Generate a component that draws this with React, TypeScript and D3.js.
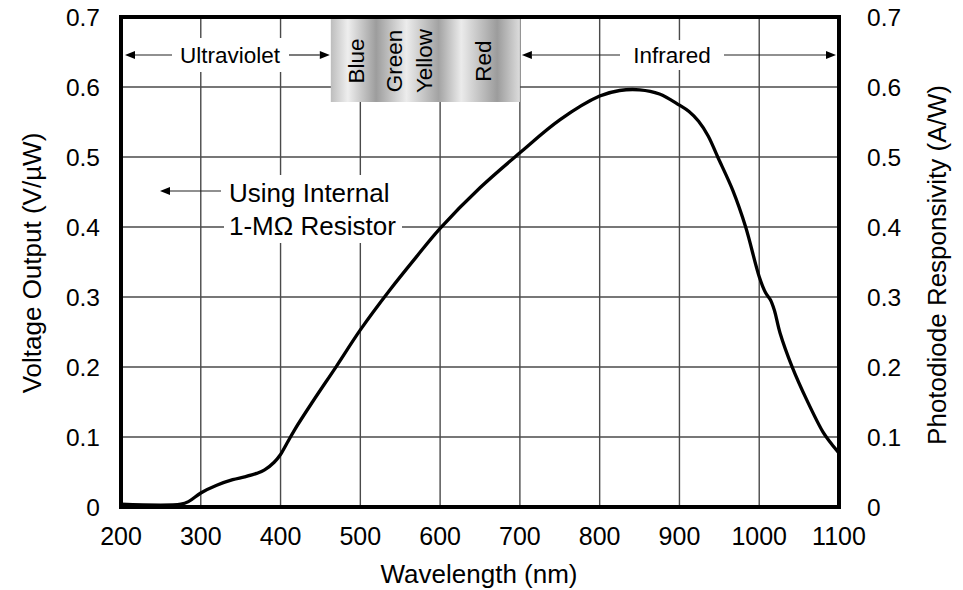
import React from 'react';
import * as d3 from 'd3';

// wavelength (nm) vs voltage output (V/uW)
const wavelengths = [200, 275, 285, 300, 320, 340, 355, 370, 380, 392, 400, 408, 418, 440, 470, 500, 537, 570, 600, 650, 700, 750, 800, 825, 850, 875, 900, 912, 924, 936, 948, 967, 983, 1000, 1008, 1014, 1019, 1026, 1041, 1060, 1080, 1090, 1100];
const voltage = [0.004, 0.004, 0.008, 0.02, 0.031, 0.039, 0.043, 0.048, 0.053, 0.064, 0.075, 0.091, 0.111, 0.15, 0.201, 0.253, 0.31, 0.357, 0.398, 0.456, 0.506, 0.553, 0.587, 0.595, 0.596, 0.59, 0.574, 0.565, 0.551, 0.53, 0.5, 0.452, 0.4, 0.329, 0.306, 0.296, 0.281, 0.249, 0.201, 0.152, 0.107, 0.091, 0.077];

const xTicks = [200, 300, 400, 500, 600, 700, 800, 900, 1000, 1100];
const yTicks = [0, 0.1, 0.2, 0.3, 0.4, 0.5, 0.6, 0.7];

const bandRange = [463, 700];
const bandLabels = [
  { text: 'Blue', nm: 495 },
  { text: 'Green', nm: 543 },
  { text: 'Yellow', nm: 580 },
  { text: 'Red', nm: 654 },
];

const W = 963;
const H = 590;
const FONT = '"Liberation Sans", Arial, Helvetica, sans-serif';

const Arrow = ({ x1, x2, y }: { x1: number; x2: number; y: number }) => {
  // x2 is where the arrow head points
  const dir = x2 > x1 ? 1 : -1;
  const hl = 10;
  return (
    <g>
      <line x1={x1} y1={y} x2={x2 - dir * hl} y2={y} stroke="#222" strokeWidth={1.2} />
      <path d={`M${x2},${y} L${x2 - dir * hl},${y - 4} L${x2 - dir * hl},${y + 4} Z`} fill="#000" />
    </g>
  );
};

const App = () => {
  const x = d3.scaleLinear().domain([200, 1100]).range([121, 839]);
  const y = d3.scaleLinear().domain([0, 0.7]).range([507, 17]);

  const line = d3.line<number>()
    .x((d, i) => x(wavelengths[i]))
    .y(d => y(d))
    .curve(d3.curveCatmullRom.alpha(0.5));

  const top = y(0.7);
  const bottom = y(0);
  const bx0 = x(bandRange[0]);
  const bx1 = x(bandRange[1]);
  const arrowY = 55;

  return (
    <svg width={W} height={H} style={{ position: 'absolute', left: 0, top: 0, background: '#fff' }} fontFamily={FONT}>
      <defs>
        <linearGradient id="band" x1="0" x2="1" y1="0" y2="0">
          <stop offset="0" stopColor="#bdbdbd" />
          <stop offset="0.09" stopColor="#eeeeee" />
          <stop offset="0.24" stopColor="#9d9d9d" />
          <stop offset="0.40" stopColor="#ececec" />
          <stop offset="0.57" stopColor="#a3a3a3" />
          <stop offset="0.69" stopColor="#ebebeb" />
          <stop offset="0.88" stopColor="#9c9c9c" />
          <stop offset="1" stopColor="#dcdcdc" />
        </linearGradient>
      </defs>

      {/* grid */}
      {xTicks.map(t => (
        <line key={'gx' + t} x1={x(t)} x2={x(t)} y1={top} y2={bottom} stroke="#4a4a4a" strokeWidth={1.4} />
      ))}
      {yTicks.map(t => (
        <line key={'gy' + t} x1={x(200)} x2={x(1100)} y1={y(t)} y2={y(t)} stroke="#4a4a4a" strokeWidth={1.4} />
      ))}

      {/* spectrum band */}
      <rect x={bx0} y={top} width={bx1 - bx0} height={102 - top} fill="url(#band)" />
      {bandLabels.map(b => (
        <text key={b.text} transform={`translate(${x(b.nm)},61) rotate(-90)`} textAnchor="middle"
          dominantBaseline="central" fontSize={22.5}>{b.text}</text>
      ))}

      {/* region labels */}
      <Arrow x1={172} x2={125} y={arrowY} />
      <Arrow x1={289} x2={bx0 - 1} y={arrowY} />
      <rect x={173} y={38} width={115} height={34} fill="#fff" />
      <text x={230} y={arrowY} textAnchor="middle" dominantBaseline="central" fontSize={22.5}>Ultraviolet</text>

      <Arrow x1={620} x2={bx1 + 2} y={arrowY} />
      <Arrow x1={724} x2={836} y={arrowY} />
      <rect x={628} y={40} width={90} height={30} fill="#fff" />
      <text x={672} y={arrowY} textAnchor="middle" dominantBaseline="central" fontSize={22.5}>Infrared</text>

      <Arrow x1={221} x2={160} y={191} />
      <rect x={224} y={175} width={178} height={68} fill="#fff" />
      <text x={229} y={202} fontSize={26}>Using Internal</text>
      <text x={229} y={235} fontSize={26}>1-MΩ Resistor</text>

      {/* frame */}
      <rect x={x(200)} y={top} width={x(1100) - x(200)} height={bottom - top} fill="none" stroke="#000" strokeWidth={4} />

      {/* curve */}
      <path d={line(voltage) || ''} fill="none" stroke="#000" strokeWidth={3.3} strokeLinejoin="round" />

      {/* ticks */}
      {xTicks.map(t => (
        <text key={'tx' + t} x={x(t)} y={545} textAnchor="middle" fontSize={25}>{t}</text>
      ))}
      {yTicks.map(t => (
        <text key={'tl' + t} x={100} y={y(t)} textAnchor="end" dominantBaseline="central" fontSize={24.5}>{t}</text>
      ))}
      {yTicks.map(t => (
        <text key={'tr' + t} x={867} y={y(t)} textAnchor="start" dominantBaseline="central" fontSize={24.5}>{t}</text>
      ))}

      {/* axis titles */}
      <text x={479} y={583} textAnchor="middle" fontSize={26}>Wavelength (nm)</text>
      <text transform="translate(32,263) rotate(-90)" textAnchor="middle" dominantBaseline="central" fontSize={26}>Voltage Output (V/µW)</text>
      <text transform="translate(937,265) rotate(-90)" textAnchor="middle" dominantBaseline="central" fontSize={26}>Photodiode Responsivity (A/W)</text>
    </svg>
  );
};

export default App;
